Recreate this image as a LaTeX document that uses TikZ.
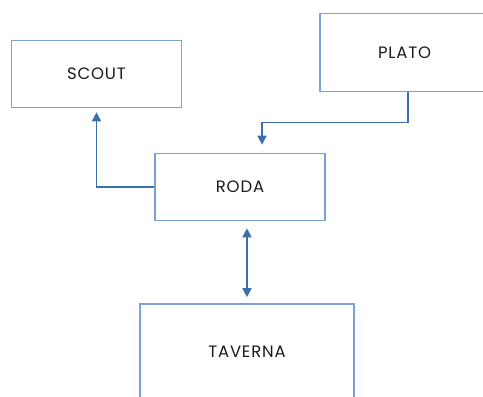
\documentclass[tikz,border=0pt]{standalone}
\usepackage{fontspec}
\usetikzlibrary{arrows.meta}
\newfontfamily\boxfont{Poppins}[LetterSpace=5]
\definecolor{boxblue}{RGB}{122,162,212}
\definecolor{linkblue}{RGB}{58,112,176}
\definecolor{inkgray}{RGB}{26,26,26}

\tikzset{
  place/.style={draw=boxblue,line width=1.6pt,rectangle,inner sep=0pt,
    text=inkgray,font=\boxfont\fontsize{16.5}{19}\selectfont},
  link/.style={draw=linkblue,line width=1.6pt,
    -{Triangle[length=9pt,width=9pt]}},
}

\begin{document}
\begin{tikzpicture}[x=1pt,y=-1pt]
  \useasboundingbox (0,0) rectangle (483,397);
  \node[place,minimum width=170pt,minimum height=67pt] (scout) at (96.5,74) {SCOUT};
  \node[place,minimum width=176pt,minimum height=78pt] (plato) at (408,52.5) {\hspace*{-7pt}PLATO};
  \node[place,minimum width=170pt,minimum height=67pt] (roda) at (240,187) {RODA};
  \node[place,minimum width=214pt,minimum height=96pt] (taverna) at (247,352) {TAVERNA};
  \coordinate (rodain) at ([xshift=22pt,yshift=8pt]roda.north);
  \draw[link,shorten >=4pt] (roda.west) -| (scout.south);
  \draw[link] (plato.south) -- ++(0,30) -| (rodain);
  \draw[link,{Triangle[length=9pt,width=9pt]}-{Triangle[length=9pt,width=9pt]},
    shorten <=7pt,shorten >=6pt] (roda.south -| taverna.north) -- (taverna.north);
\end{tikzpicture}
\end{document}
